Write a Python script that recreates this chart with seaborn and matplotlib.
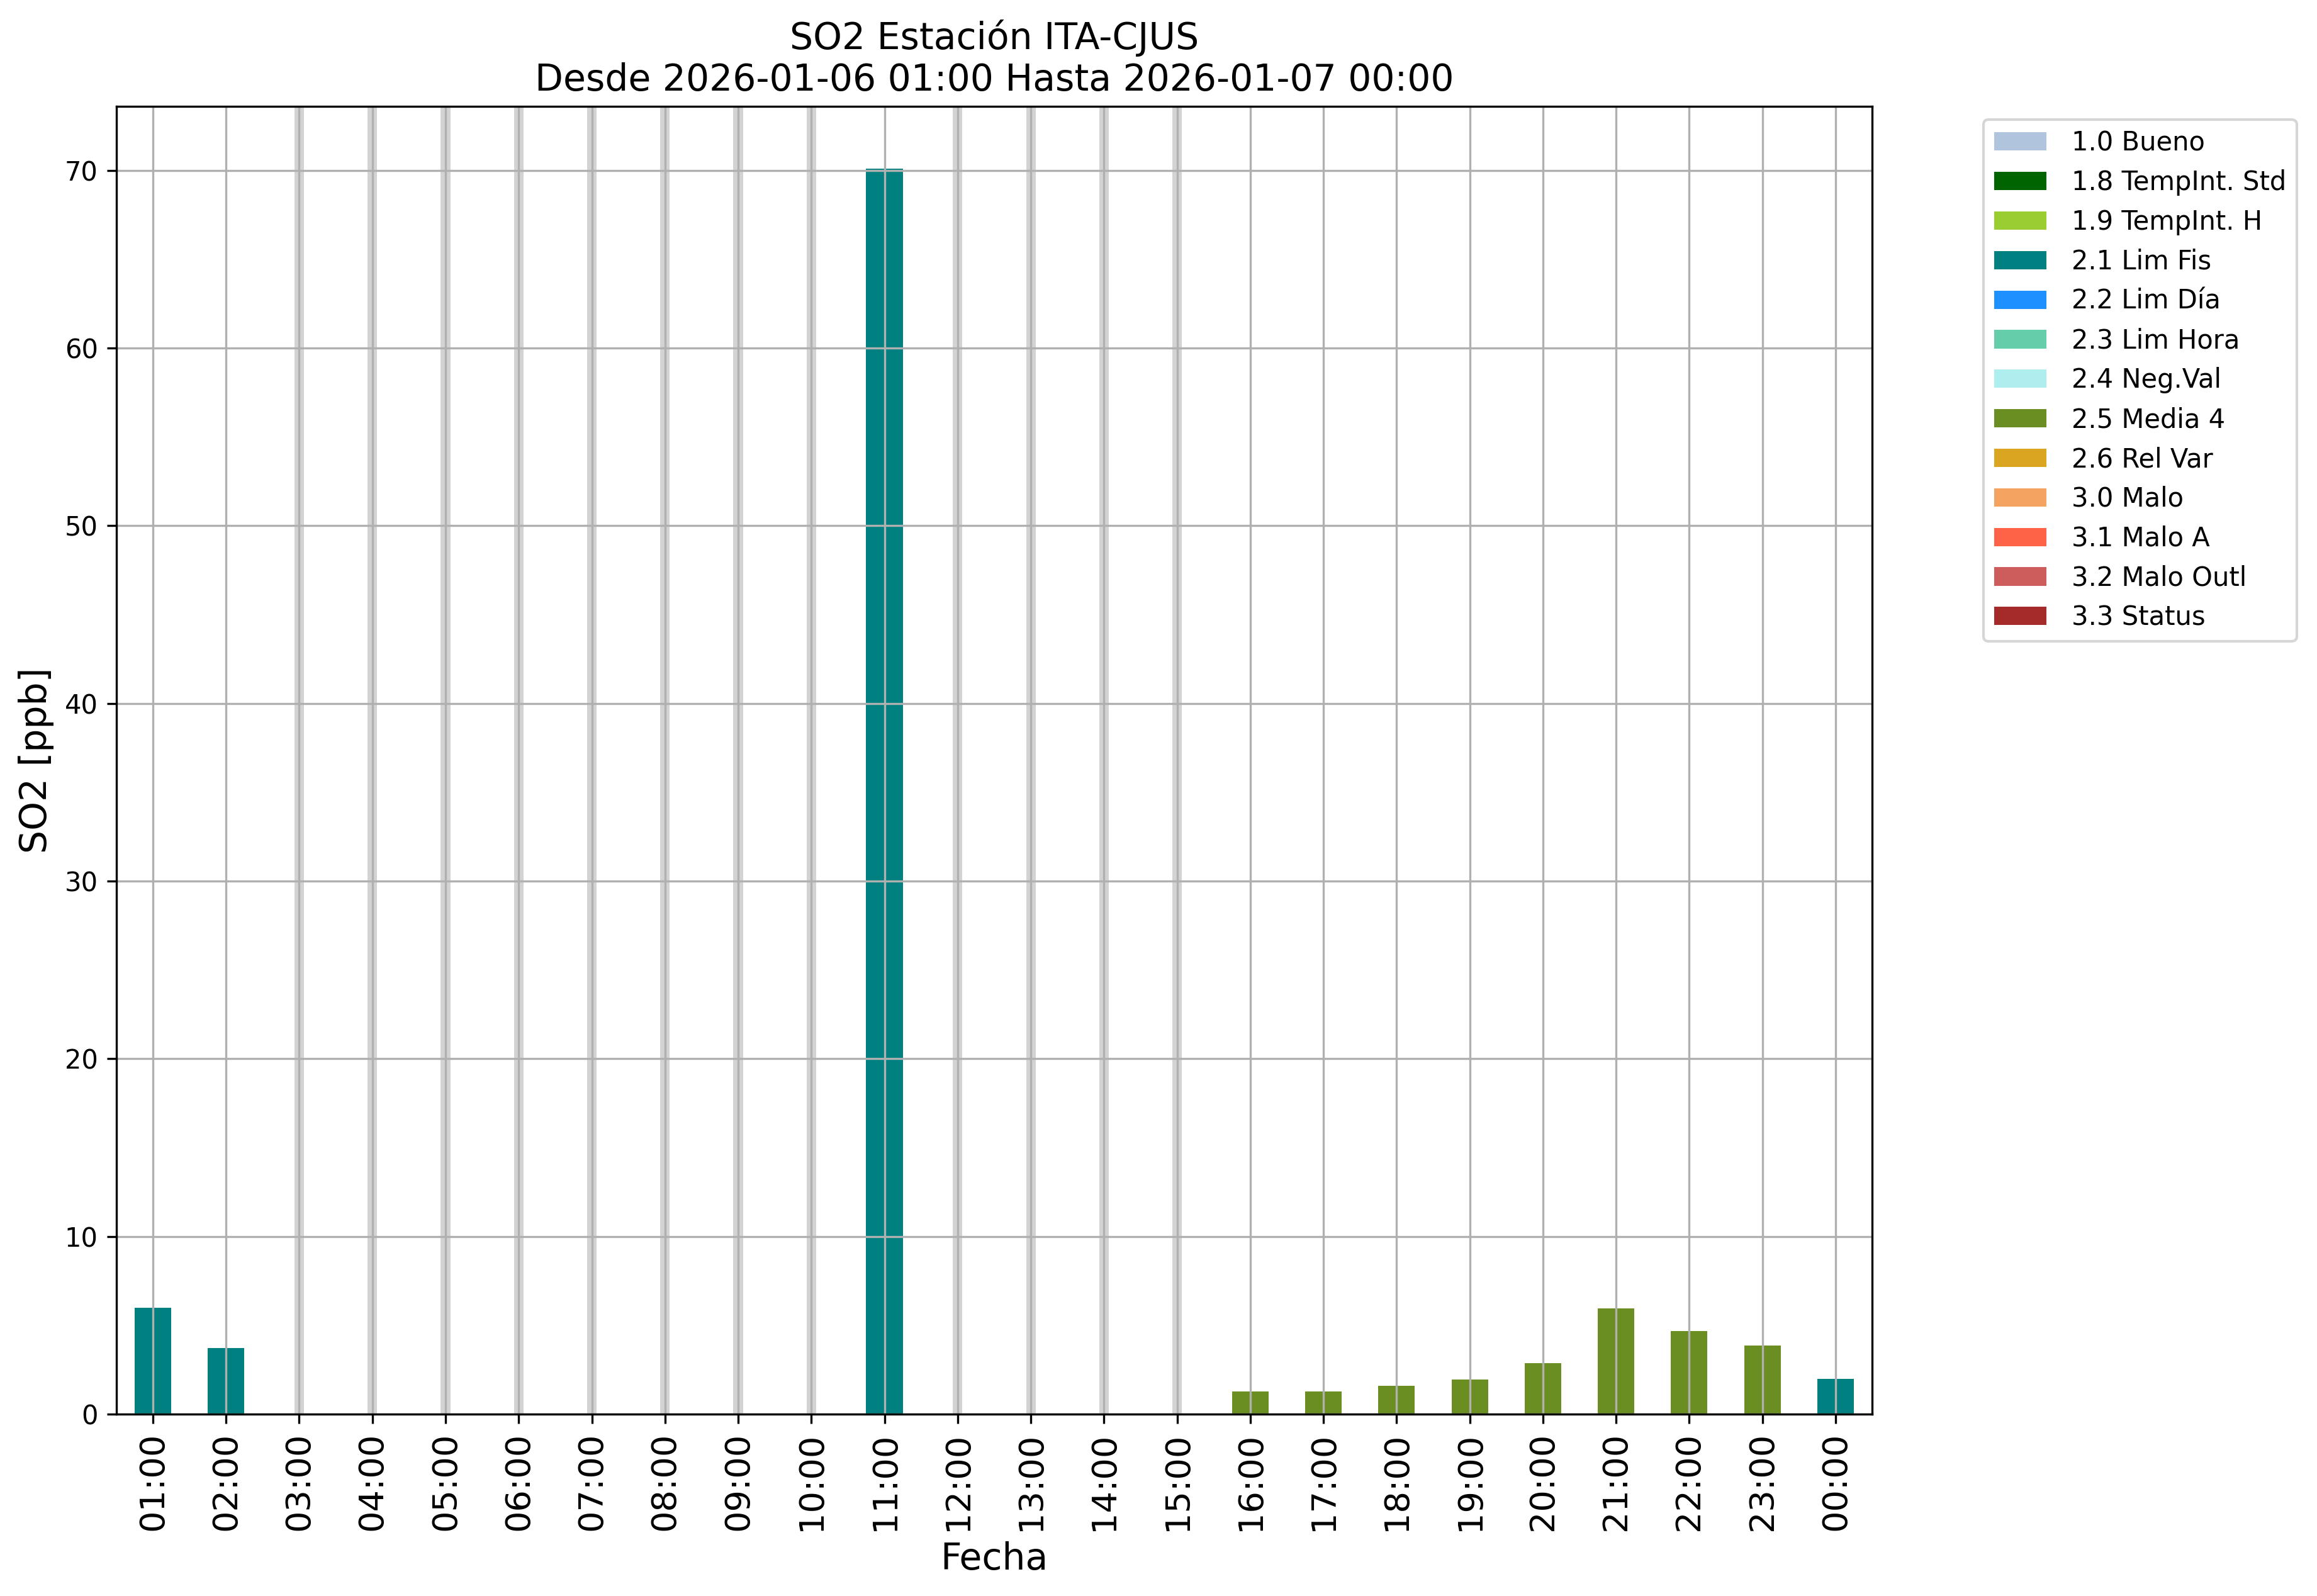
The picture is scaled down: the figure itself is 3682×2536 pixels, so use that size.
import matplotlib
matplotlib.use("Agg")
import matplotlib.pyplot as plt
from matplotlib.patches import Patch
import seaborn as sns
import pandas as pd
import numpy as np

# Data
hours = ["01:00", "02:00", "03:00", "04:00", "05:00", "06:00", "07:00", "08:00",
         "09:00", "10:00", "11:00", "12:00", "13:00", "14:00", "15:00", "16:00",
         "17:00", "18:00", "19:00", "20:00", "21:00", "22:00", "23:00", "00:00"]
so2 = [5.98, 3.72, np.nan, np.nan, np.nan, np.nan, np.nan, np.nan,
       np.nan, np.nan, 70.1, np.nan, np.nan, np.nan, np.nan, 1.27,
       1.27, 1.59, 1.95, 2.87, 5.95, 4.67, 3.86, 1.98]
flags = ["2.1 Lim Fis", "2.1 Lim Fis", None, None, None, None, None, None,
         None, None, "2.1 Lim Fis", None, None, None, None, "2.5 Media 4",
         "2.5 Media 4", "2.5 Media 4", "2.5 Media 4", "2.5 Media 4", "2.5 Media 4",
         "2.5 Media 4", "2.5 Media 4", "2.1 Lim Fis"]

flag_labels = ["1.0 Bueno", "1.8 TempInt. Std", "1.9 TempInt. H", "2.1 Lim Fis",
               "2.2 Lim Día", "2.3 Lim Hora", "2.4 Neg.Val", "2.5 Media 4",
               "2.6 Rel Var", "3.0 Malo", "3.1 Malo A", "3.2 Malo Outl", "3.3 Status"]
flag_colors = ["lightsteelblue", "darkgreen", "yellowgreen", "teal",
               "dodgerblue", "mediumaquamarine", "paleturquoise", "olivedrab",
               "goldenrod", "sandybrown", "tomato", "indianred", "brown"]
palette = dict(zip(flag_labels, flag_colors))

df = pd.DataFrame({"hora": hours, "valor": so2, "flag": flags})

fig, ax = plt.subplots(figsize=(3682 / 300, 2536 / 300), dpi=300)
fig.subplots_adjust(left=0.0502, right=0.808, top=0.9334, bottom=0.114)

# grey bands where there is no data
for i, v in enumerate(so2):
    if np.isnan(v):
        ax.axvspan(i - 0.065, i + 0.065, color="lightgray", lw=0, zorder=0.8)

sns.barplot(data=df.dropna(), x="hora", y="valor", hue="flag", order=hours,
            palette=palette, dodge=False, width=0.5, saturation=1,
            errorbar=None, linewidth=0, legend=False, ax=ax)

ax.grid(True)
ax.set_xlim(-0.5, len(hours) - 0.5)
ax.set_title("SO2 Estación ITA-CJUS\nDesde 2026-01-06 01:00 Hasta 2026-01-07 00:00", fontsize=14)
ax.set_ylabel("SO2 [ppb]", fontsize=14)
ax.set_xlabel("Fecha", fontsize=14)
ax.tick_params(axis="x", labelrotation=90, labelsize=13)
ax.tick_params(axis="y", labelsize=10)

handles = [Patch(facecolor=c, label=l) for l, c in zip(flag_labels, flag_colors)]
ax.legend(handles=handles, bbox_to_anchor=(1.056, 1), loc="upper left", fontsize=10,
          handletextpad=0.95)

fig.savefig("out.png", dpi=300)
